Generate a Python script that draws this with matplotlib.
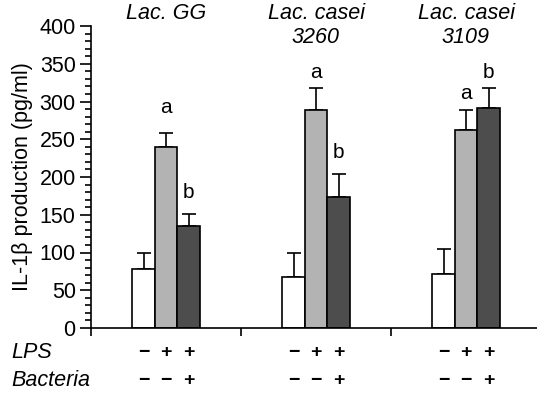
import matplotlib
matplotlib.use('Agg')
import matplotlib.pyplot as plt
from matplotlib.ticker import MultipleLocator
import numpy as np

plt.rcParams['font.family'] = ['Liberation Sans', 'DejaVu Sans']

# data
groups = ['Lac. GG', 'Lac. casei\n3260', 'Lac. casei\n3109']
control = [78, 68, 72]
control_err = [22, 31, 32]
lps = [240, 289, 262]
lps_err = [18, 29, 27]
bact = [135, 174, 291]
bact_err = [16, 30, 27]
lps_letter = ['a', 'a', 'a']
lps_letter_y = [292, 339, 310]
bact_letter = ['b', 'b', 'b']
bact_letter_y = [179, 233, 339]
lps_signs = ['\u2212', '+', '+']
bact_signs = ['\u2212', '\u2212', '+']

fig = plt.figure(figsize=(5.37, 3.94), dpi=100)
ax = fig.add_axes([91/537, 66/394, 446/537, 302/394])

x = np.arange(len(groups)) + 0.5
w = 0.15
ek = dict(ecolor='black', capsize=5, elinewidth=1.2, capthick=1.2)
ax.bar(x - w, control, w, color='white', edgecolor='black', linewidth=1.2, zorder=2)
ax.errorbar(x - w, control, yerr=[np.zeros(3), control_err], fmt='none', zorder=1, **ek)
ax.bar(x, lps, w, color='#b3b3b3', edgecolor='black', linewidth=1.2, zorder=2)
ax.errorbar(x, lps, yerr=[np.zeros(3), lps_err], fmt='none', zorder=1, **ek)
ax.bar(x + w, bact, w, color='#4d4d4d', edgecolor='black', linewidth=1.2, zorder=2)
ax.errorbar(x + w, bact, yerr=[np.zeros(3), bact_err], fmt='none', zorder=1, **ek)

for i in range(3):
    ax.text(x[i], lps_letter_y[i], lps_letter[i], ha='center', va='center', fontsize=15)
    ax.text(x[i] + w, bact_letter_y[i], bact_letter[i], ha='center', va='center', fontsize=15)
    ax.text(x[i], 1.075, groups[i], transform=ax.get_xaxis_transform(), ha='center', va='top',
            fontsize=15.5, style='italic', linespacing=1.15)
    for j, s in enumerate(lps_signs):
        ax.text(x[i] + (j - 1) * w, -33, s, ha='center', va='center', fontsize=14, fontweight='bold')
    for j, s in enumerate(bact_signs):
        ax.text(x[i] + (j - 1) * w, -69, s, ha='center', va='center', fontsize=14, fontweight='bold')

ax.text(-0.53, -33, 'LPS', ha='left', va='center', fontsize=15.5, style='italic')
ax.text(-0.53, -69, 'Bacteria', ha='left', va='center', fontsize=15.5, style='italic')

ax.set_xlim(0, 446/150)
ax.set_ylim(0, 400)
ax.set_xticks([0, 1, 2])
ax.set_xticklabels([])
ax.yaxis.set_major_locator(MultipleLocator(50))
ax.yaxis.set_minor_locator(MultipleLocator(10))
ax.tick_params(axis='y', which='major', length=8, width=1.2, labelsize=15.5, pad=3)
ax.tick_params(axis='y', which='minor', length=4, width=1.2)
ax.tick_params(axis='x', which='major', length=6, width=1.2)
for s in ['top', 'right']:
    ax.spines[s].set_visible(False)
for s in ['left', 'bottom']:
    ax.spines[s].set_linewidth(1.2)
ax.set_ylabel('IL-1\u03b2 production (pg/ml)', fontsize=15.5)
ax.yaxis.set_label_coords(-0.13, 0.5)

fig.savefig('out.png', dpi=100)
